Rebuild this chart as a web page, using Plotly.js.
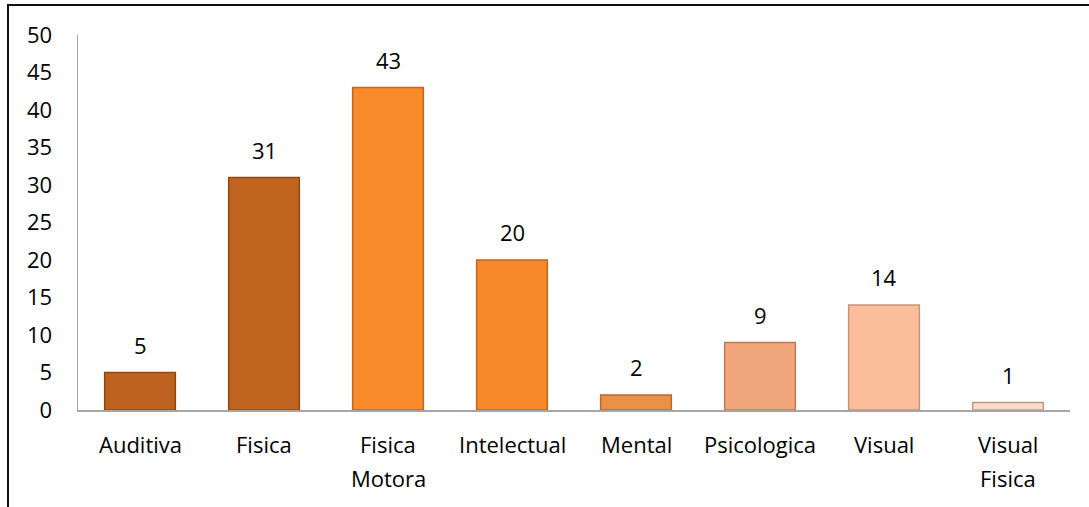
<!DOCTYPE html>
<html>
<head>
<meta charset="utf-8">
<script src="https://cdn.plot.ly/plotly-3.0.1.min.js"></script>
<style>
html,body{margin:0;padding:0;background:#fff;}
#wrap{position:relative;width:1089px;height:507px;overflow:hidden;}
#chart{position:absolute;left:0;top:0;width:1089px;height:507px;}
#frame{position:absolute;left:7px;top:4px;width:1100px;height:520px;border-left:2px solid #111;border-top:2px solid #111;pointer-events:none;}
</style>
</head>
<body>
<div id="wrap"><div id="chart"></div><div id="frame"></div></div>
<script>
const categories = ["Auditiva", "Fisica", "Fisica\nMotora", "Intelectual", "Mental", "Psicologica", "Visual", "Visual\nFisica"];
const values = [5, 31, 43, 20, 2, 9, 14, 1];
const barColors = ["#BD621F", "#C0651F", "#F98B2B", "#F7892B", "#EB9147", "#F2A67C", "#FBBD9A", "#F8DCC8"];
const edgeColors = ["#8E4714", "#904915", "#C4661A", "#C4661A", "#B86A2C", "#C07A58", "#C89478", "#B89A88"];
const yTicks = [0, 5, 10, 15, 20, 25, 30, 35, 40, 45, 50];

const xIdx = categories.map((c, i) => i);
const font = {family: "'Open Sans', Lato, sans-serif", size: 22, color: "#000"};

const trace = {
  type: "bar",
  x: xIdx,
  y: values,
  width: 0.57,
  marker: {color: barColors, line: {color: edgeColors, width: 1.5}},
  hoverinfo: "skip"
};

const annotations = [];
values.forEach((v, i) => {
  annotations.push({x: i, y: v, xref: "x", yref: "y", text: String(v), showarrow: false,
    yanchor: "bottom", yshift: 11, font: font});
});
categories.forEach((c, i) => {
  c.split("\n").forEach((line, j) => {
    annotations.push({x: i, y: 0, xref: "x", yref: "y", text: line, showarrow: false,
      yanchor: "middle", yshift: -34 - j * 34, font: font});
  });
});

const layout = {
  width: 1089, height: 507,
  margin: {l: 78, r: 19, t: 35, b: 97},
  paper_bgcolor: "rgba(0,0,0,0)",
  plot_bgcolor: "rgba(0,0,0,0)",
  showlegend: false,
  font: font,
  xaxis: {range: [-0.5, 7.5], showticklabels: false, ticks: "", showgrid: false, zeroline: false,
    showline: true, linecolor: "#A6A6A6", linewidth: 1.5, fixedrange: true},
  yaxis: {range: [0, 50], tickvals: yTicks, ticktext: yTicks.map(String), ticks: "", showgrid: false,
    zeroline: false, showline: true, linecolor: "#A6A6A6", linewidth: 1.5, ticklabelstandoff: 20,
    tickfont: font, fixedrange: true},
  annotations: annotations
};

Plotly.newPlot("chart", [trace], layout, {displayModeBar: false, staticPlot: true});
</script>
</body>
</html>
